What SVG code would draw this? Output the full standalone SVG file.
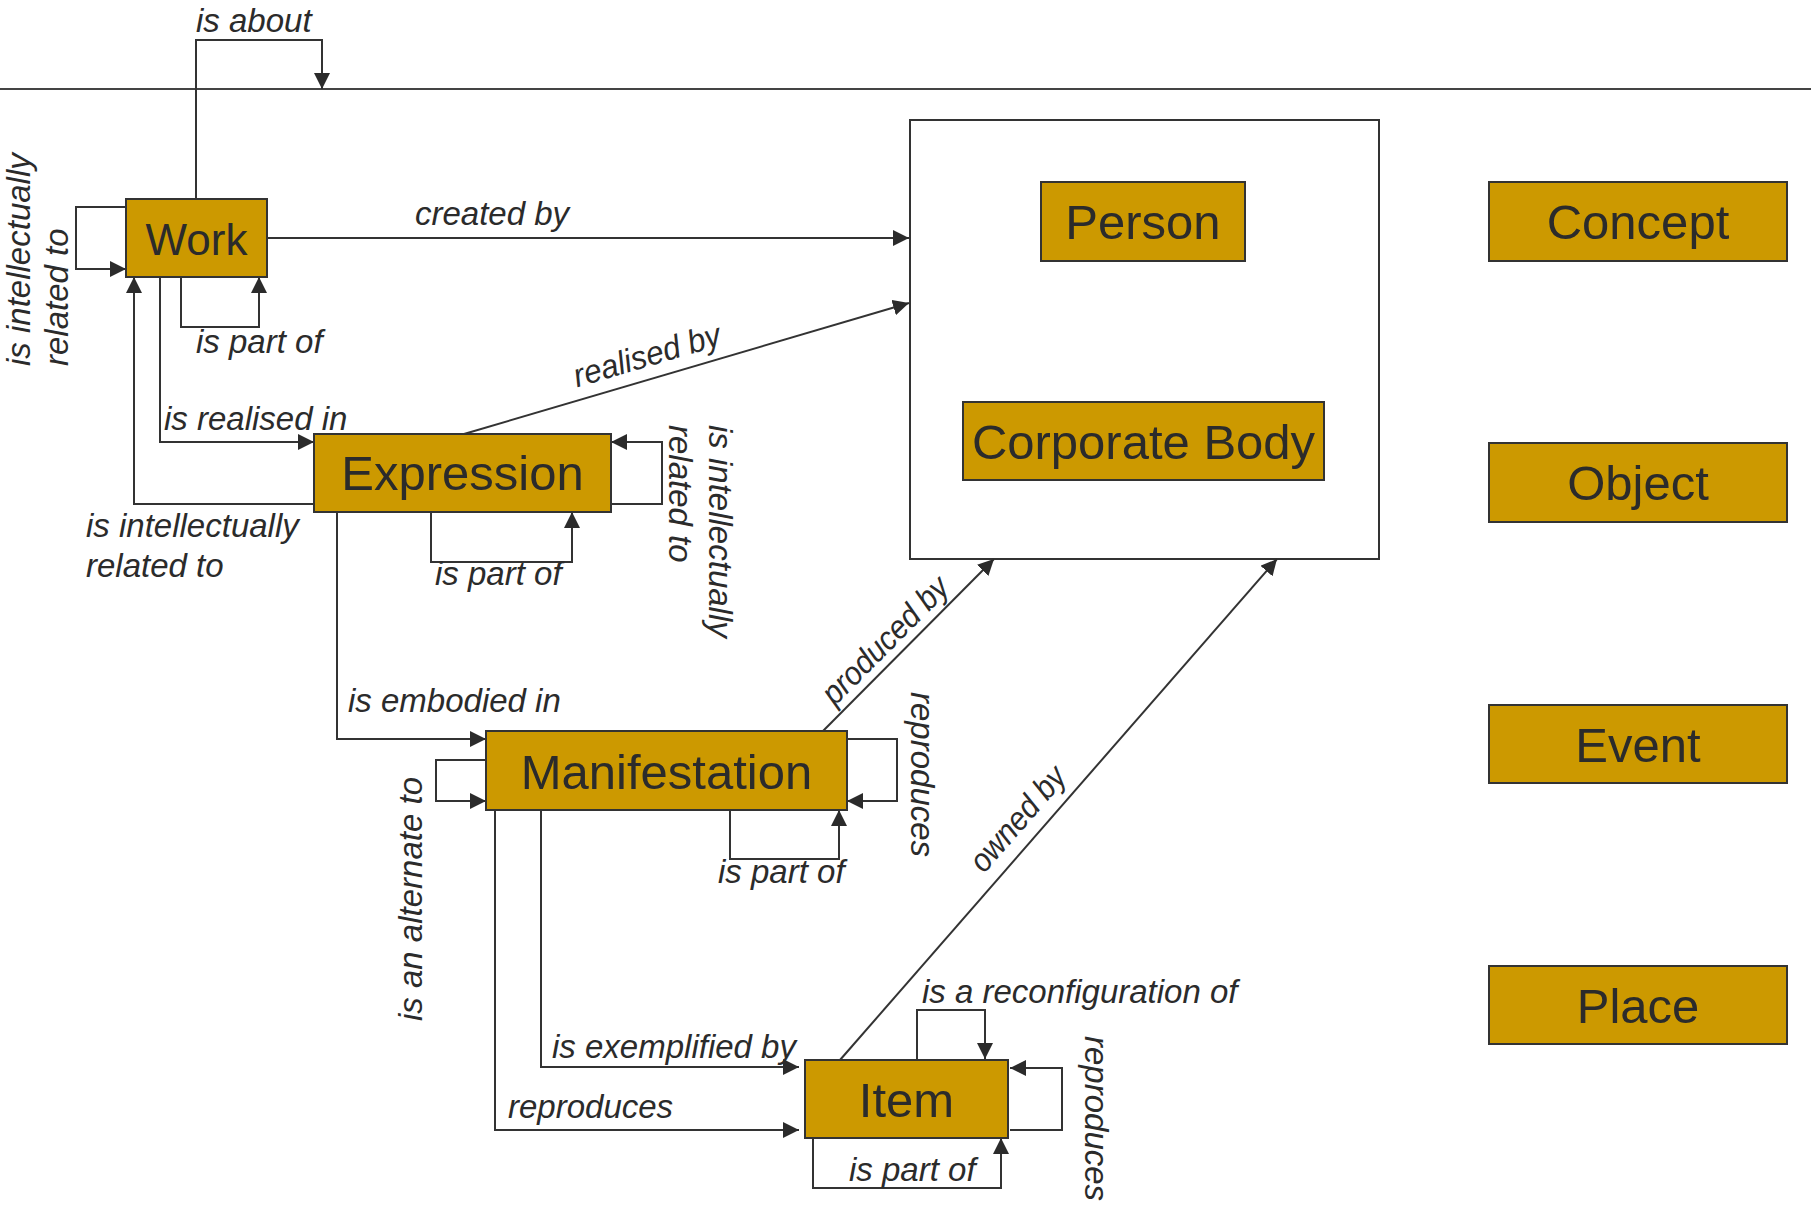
<svg xmlns="http://www.w3.org/2000/svg" width="1811" height="1215" viewBox="0 0 1811 1215">
<style>
.node rect{fill:#CC9900;stroke:#333;stroke-width:2}
.node text{font-family:"Liberation Sans",Arial,sans-serif;font-size:49px;fill:#2b2b2b;text-anchor:middle}
.conn path{fill:none;stroke:#333;stroke-width:2}
.lbl{font-family:"Liberation Sans",Arial,sans-serif;font-size:33px;font-style:italic;fill:#2b2b2b}
.mid{text-anchor:middle}
</style>
<defs>
<marker id="arr" viewBox="0 0 16 16" refX="16" refY="8" markerWidth="16" markerHeight="16" markerUnits="userSpaceOnUse" orient="auto">
<path d="M0,0 L16,8 L0,16 z" fill="#2b2b2b"/>
</marker>
</defs>
<rect x="0" y="0" width="1811" height="1215" fill="#fff"/>
<path d="M0,89 H1811" stroke="#444" stroke-width="2" fill="none"/>

<g id="container">
<rect x="910" y="120" width="469" height="439" fill="#fff" stroke="#333" stroke-width="2"/>
</g>

<g id="connectors" class="conn">
<path d="M196,199 V40 H322 V89" marker-end="url(#arr)"/>
<path d="M126,207 H76 V269 H126" marker-end="url(#arr)"/>
<path d="M181,277 V327 H259 V277" marker-end="url(#arr)"/>
<path d="M314,504 H134 V277" marker-end="url(#arr)"/>
<path d="M160,277 V442 H314" marker-end="url(#arr)"/>
<path d="M267,238 H909" marker-end="url(#arr)"/>
<path d="M464,434 L909,303" marker-end="url(#arr)"/>
<path d="M611,504 H662 V442 H611" marker-end="url(#arr)"/>
<path d="M431,512 V562 H572 V512" marker-end="url(#arr)"/>
<path d="M337,512 V739 H486" marker-end="url(#arr)"/>
<path d="M486,760 H436 V801 H486" marker-end="url(#arr)"/>
<path d="M847,739 H897 V801 H847" marker-end="url(#arr)"/>
<path d="M730,810 V859 H839 V810" marker-end="url(#arr)"/>
<path d="M823,731 L994,559" marker-end="url(#arr)"/>
<path d="M541,810 V1067 H799" marker-end="url(#arr)"/>
<path d="M495,810 V1130 H799" marker-end="url(#arr)"/>
<path d="M917,1060 V1010 H985 V1059" marker-end="url(#arr)"/>
<path d="M1010,1130 H1062 V1068 H1010" marker-end="url(#arr)"/>
<path d="M813,1138 V1188 H1001 V1138" marker-end="url(#arr)"/>
<path d="M840,1060 L1277,559" marker-end="url(#arr)"/>
</g>

<g id="labels" class="lbl">
<text x="196" y="32">is about</text>
<text x="415" y="225">created by</text>
<text x="196" y="353">is part of</text>
<text x="164" y="430">is realised in</text>
<text class="mid" transform="translate(650,366) rotate(-16.4)" textLength="152" lengthAdjust="spacingAndGlyphs">realised by</text>
<text transform="translate(30,366) rotate(-90)"><tspan x="0" y="0">is intellectually</tspan><tspan x="0" y="38">related to</tspan></text>
<text x="86" y="537">is intellectually</text>
<text x="86" y="577">related to</text>
<text transform="translate(709,425) rotate(90)"><tspan x="0" y="0">is intellectually</tspan><tspan x="0" y="40">related to</tspan></text>
<text x="435" y="585">is part of</text>
<text x="348" y="712">is embodied in</text>
<text class="mid" transform="translate(893,648) rotate(-45.2)" textLength="165" lengthAdjust="spacingAndGlyphs">produced by</text>
<text transform="translate(422,1021) rotate(-90)">is an alternate to</text>
<text transform="translate(911,692) rotate(90)">reproduces</text>
<text x="718" y="883">is part of</text>
<text class="mid" transform="translate(1026,826) rotate(-48.9)" textLength="128" lengthAdjust="spacingAndGlyphs">owned by</text>
<text x="552" y="1058">is exemplified by</text>
<text x="508" y="1118">reproduces</text>
<text x="922" y="1003">is a reconfiguration of</text>
<text transform="translate(1085,1036) rotate(90)">reproduces</text>
<text x="849" y="1181">is part of</text>
</g>

<g id="work" class="node"><rect x="126" y="199" width="141" height="78"/><text x="196.5" y="255" style="font-size:44px">Work</text></g>
<g id="expression" class="node"><rect x="314" y="434" width="297" height="78"/><text x="462.5" y="490">Expression</text></g>
<g id="manifestation" class="node"><rect x="486" y="731" width="361" height="79"/><text x="666.5" y="789">Manifestation</text></g>
<g id="item" class="node"><rect x="805" y="1060" width="203" height="78"/><text x="906.5" y="1117">Item</text></g>
<g id="person" class="node"><rect x="1041" y="182" width="204" height="79"/><text x="1143" y="239">Person</text></g>
<g id="corporate-body" class="node"><rect x="963" y="402" width="361" height="78"/><text x="1143.5" y="459">Corporate Body</text></g>
<g id="concept" class="node"><rect x="1489" y="182" width="298" height="79"/><text x="1638" y="239">Concept</text></g>
<g id="object" class="node"><rect x="1489" y="443" width="298" height="79"/><text x="1638" y="500">Object</text></g>
<g id="event" class="node"><rect x="1489" y="705" width="298" height="78"/><text x="1638" y="762">Event</text></g>
<g id="place" class="node"><rect x="1489" y="966" width="298" height="78"/><text x="1638" y="1023">Place</text></g>
</svg>
